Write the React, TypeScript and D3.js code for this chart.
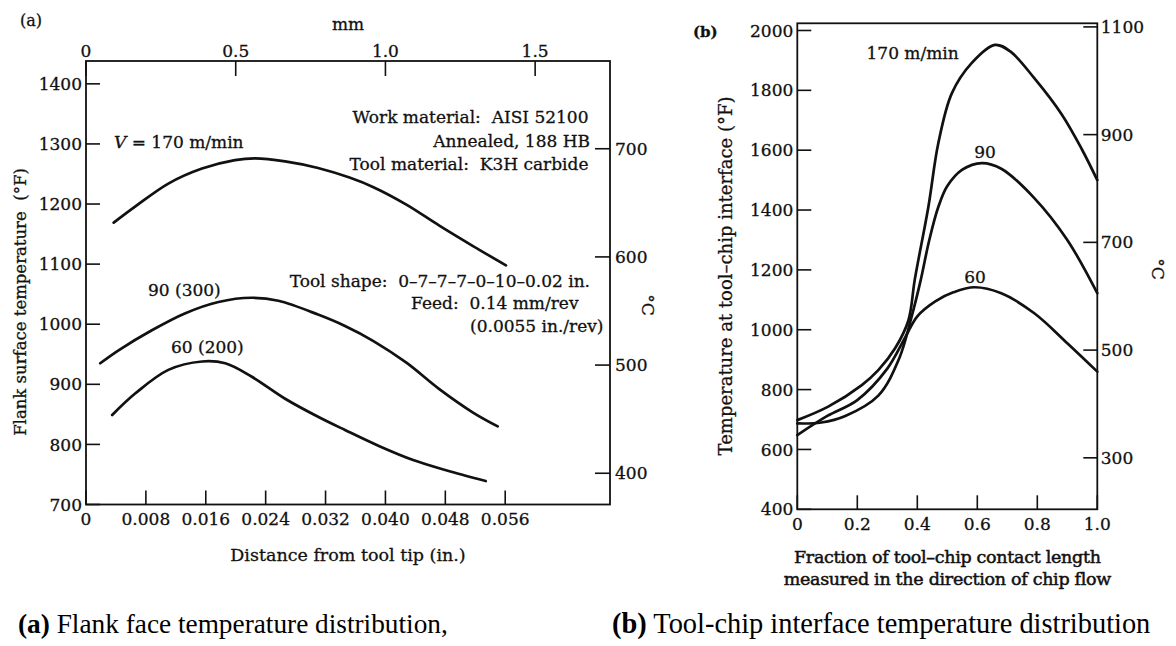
import * as d3 from "d3";

// ---------- panel (a): flank surface temperature ----------
const flankX170 = [0.0037, 0.0066, 0.011, 0.0155, 0.0199, 0.0226, 0.0266, 0.031, 0.0352, 0.0384, 0.0428, 0.0472, 0.0517, 0.0561];
const flankT170 = [1169, 1196, 1234, 1259, 1273, 1276, 1271, 1260, 1244, 1228, 1199, 1164, 1130, 1098];
const flankX90 = [0.0019, 0.0044, 0.0088, 0.0132, 0.0177, 0.0221, 0.0257, 0.031, 0.0346, 0.0384, 0.0428, 0.0472, 0.0517, 0.055];
const flankT90 = [935, 957, 990, 1018, 1037, 1044, 1039, 1016, 997, 972, 936, 892, 853, 830];
const flankX60 = [0.0035, 0.0066, 0.011, 0.0155, 0.0186, 0.0221, 0.0266, 0.031, 0.0346, 0.0392, 0.0437, 0.0481, 0.0534];
const flankT60 = [849, 885, 924, 938, 935, 913, 876, 846, 824, 797, 774, 757, 739];

const aTicksF = [700, 800, 900, 1000, 1100, 1200, 1300, 1400];
const aTicksC = [400, 500, 600, 700];
const aTicksIn = [0, 0.008, 0.016, 0.024, 0.032, 0.04, 0.048, 0.056];
const aTicksMm = [0, 0.5, 1.0, 1.5];

// ---------- panel (b): tool-chip interface temperature ----------
const chipX170 = [0, 0.103, 0.215, 0.27, 0.326, 0.37, 0.392, 0.437, 0.47, 0.515, 0.581, 0.659, 0.71, 0.792, 0.881, 0.948, 1.0];
const chipT170 = [698, 743, 815, 865, 938, 1030, 1170, 1411, 1623, 1790, 1891, 1952, 1930, 1838, 1720, 1604, 1500];
const chipX90 = [0, 0.08, 0.16, 0.27, 0.34, 0.38, 0.41, 0.44, 0.47, 0.5, 0.55, 0.615, 0.68, 0.79, 0.9, 1.0];
const chipT90 = [687, 690, 712, 780, 905, 1040, 1160, 1300, 1410, 1480, 1535, 1557, 1538, 1440, 1300, 1122];
const chipX60 = [0, 0.1, 0.2, 0.3, 0.36, 0.4, 0.46, 0.52, 0.59, 0.68, 0.79, 0.9, 1.0];
const chipT60 = [648, 712, 765, 870, 975, 1045, 1095, 1125, 1142, 1122, 1055, 955, 860];

const bTicksF = [400, 600, 800, 1000, 1200, 1400, 1600, 1800, 2000];
const bTicksC = [300, 500, 700, 900, 1100];
const bTicksFrac = [0, 0.2, 0.4, 0.6, 0.8, 1.0];

const PANEL_A = { left: 86, top: 61, width: 524, height: 443.5 };
const PANEL_B = { left: 797.3, top: 23.3, width: 300, height: 486 };

const INK = "#111";
const FONT = "'DejaVu Serif', serif";
const TICK = 14;

const fToC = (f: number) => ((f - 32) * 5) / 9;
const zip = (xs: number[], ys: number[]) => xs.map((x, i) => [x, ys[i]] as [number, number]);

const fmt = (digits: number) => (v: number) => (v === 0 ? "0" : v.toFixed(digits));

export default function App() {
  // scales (a)
  const ax = d3.scaleLinear().domain([0, 0.07]).range([0, PANEL_A.width]);
  const axMm = d3.scaleLinear().domain([0, 1.75]).range([0, PANEL_A.width]);
  const ay = d3.scaleLinear().domain([700, 1438]).range([PANEL_A.height, 0]);
  const ayC = d3.scaleLinear().domain([fToC(700), fToC(1438)]).range([PANEL_A.height, 0]);
  const aLine = d3
    .line<[number, number]>()
    .x((d) => ax(d[0]))
    .y((d) => ay(d[1]))
    .curve(d3.curveCatmullRom.alpha(0.5));

  // scales (b)
  const bx = d3.scaleLinear().domain([0, 1]).range([0, PANEL_B.width]);
  const by = d3.scaleLinear().domain([400, 2024]).range([PANEL_B.height, 0]);
  const byC = d3.scaleLinear().domain([fToC(400), fToC(2024)]).range([PANEL_B.height, 0]);
  const bLine = d3
    .line<[number, number]>()
    .x((d) => bx(d[0]))
    .y((d) => by(d[1]))
    .curve(d3.curveCatmullRom.alpha(0.5));

  const aCurves = [zip(flankX170, flankT170), zip(flankX90, flankT90), zip(flankX60, flankT60)];
  const bCurves = [zip(chipX170, chipT170), zip(chipX90, chipT90), zip(chipX60, chipT60)];

  // scanned text looks a bit heavy, so add a hairline stroke
  const tickText = { fontFamily: FONT, fontSize: 17, fill: INK, stroke: INK, strokeWidth: 0.3 };

  return (
    <svg
      width={1176}
      height={646}
      style={{ position: "absolute", left: 0, top: 0, background: "#fff" }}
    >
      <rect width={1176} height={646} fill="#fff" />

      {/* ================= panel (a) ================= */}
      <text x={20} y={26} {...tickText} fontSize={16}>(a)</text>
      <g transform={`translate(${PANEL_A.left},${PANEL_A.top})`}>
        <rect width={PANEL_A.width} height={PANEL_A.height} fill="none" stroke={INK} strokeWidth={1.8} />

        {/* left °F axis */}
        {aTicksF.map((t) => (
          <g key={`af${t}`}>
            <line x1={0} x2={TICK} y1={ay(t)} y2={ay(t)} stroke={INK} strokeWidth={1.6} />
            <text x={-4} y={ay(t)} dy="0.36em" textAnchor="end" {...tickText}>{t}</text>
          </g>
        ))}
        {/* right °C axis */}
        {aTicksC.map((t) => (
          <g key={`ac${t}`}>
            <line x1={PANEL_A.width - 15} x2={PANEL_A.width} y1={ayC(t)} y2={ayC(t)} stroke={INK} strokeWidth={1.6} />
            <text x={PANEL_A.width + 5} y={ayC(t)} dy="0.36em" {...tickText}>{t}</text>
          </g>
        ))}
        {/* bottom inch axis */}
        {aTicksIn.map((t) => (
          <g key={`ai${t}`}>
            <line x1={ax(t)} x2={ax(t)} y1={PANEL_A.height} y2={PANEL_A.height - TICK} stroke={INK} strokeWidth={1.6} />
            <text x={ax(t)} y={PANEL_A.height + 20.5} textAnchor="middle" {...tickText}>{fmt(3)(t)}</text>
          </g>
        ))}
        {/* top mm axis */}
        {aTicksMm.map((t) => (
          <g key={`am${t}`}>
            <line x1={axMm(t)} x2={axMm(t)} y1={0} y2={15} stroke={INK} strokeWidth={1.6} />
            <text x={axMm(t)} y={-4.5} textAnchor="middle" {...tickText}>{fmt(1)(t)}</text>
          </g>
        ))}

        {aCurves.map((c, i) => (
          <path key={`ac${i}`} d={aLine(c) ?? ""} fill="none" stroke={INK} strokeWidth={2.7} strokeLinecap="round" />
        ))}

        <text x={PANEL_A.width / 2} y={-31} textAnchor="middle" {...tickText}>mm</text>
        <text x={PANEL_A.width / 2} y={PANEL_A.height + 56.5} textAnchor="middle" {...tickText} fontSize={17.5}>
          Distance from tool tip (in.)
        </text>
      </g>

      {/* annotations (a) */}
      <g {...tickText}>
        <text x={114} y={148}>
          <tspan fontStyle="italic">V</tspan> = 170 m/min
        </text>
        <text x={148} y={295.5}>90 (300)</text>
        <text x={171} y={352.5}>60 (200)</text>
        <g textAnchor="end">
          <text x={588.5} y={122.5} xmlSpace="preserve">Work material:  AISI 52100</text>
          <text x={590} y={146.5}>Annealed, 188 HB</text>
          <text x={588.5} y={169.5} xmlSpace="preserve">Tool material:  K3H carbide</text>
          <text x={590} y={286.5} xmlSpace="preserve">Tool shape:  0–7–7–7–0–10–0.02 in.</text>
          <text x={578.5} y={308.5} xmlSpace="preserve">Feed:  0.14 mm/rev</text>
          <text x={603.5} y={331.5}>(0.0055 in./rev)</text>
        </g>
      </g>
      <text transform="translate(20,302) rotate(-90)" textAnchor="middle" dy="0.35em" {...tickText} fontSize={16.5} xmlSpace="preserve">
        Flank surface temperature  (°F)
      </text>
      <text transform="translate(647.5,305) rotate(90)" textAnchor="middle" dy="0.35em" {...tickText}>°C</text>

      {/* ================= panel (b) ================= */}
      <text x={693} y={37} {...tickText} fontSize={15} fontWeight="bold">(b)</text>
      <g transform={`translate(${PANEL_B.left},${PANEL_B.top})`}>
        <rect width={PANEL_B.width} height={PANEL_B.height} fill="none" stroke={INK} strokeWidth={1.8} />

        {bTicksF.map((t) => (
          <g key={`bf${t}`}>
            <line x1={0} x2={TICK} y1={by(t)} y2={by(t)} stroke={INK} strokeWidth={1.6} />
            <text x={-4} y={by(t)} dy="0.36em" textAnchor="end" {...tickText}>{t}</text>
          </g>
        ))}
        {bTicksC.map((t) => (
          <g key={`bc${t}`}>
            <line x1={PANEL_B.width - TICK} x2={PANEL_B.width} y1={byC(t)} y2={byC(t)} stroke={INK} strokeWidth={1.6} />
            <text x={PANEL_B.width + 3.5} y={byC(t)} dy="0.36em" {...tickText}>{t}</text>
          </g>
        ))}
        {bTicksFrac.map((t) => (
          <g key={`bx${t}`}>
            <line x1={bx(t)} x2={bx(t)} y1={PANEL_B.height} y2={PANEL_B.height - TICK} stroke={INK} strokeWidth={1.6} />
            <text x={bx(t)} y={PANEL_B.height + 21} textAnchor="middle" {...tickText}>{fmt(1)(t)}</text>
          </g>
        ))}

        {bCurves.map((c, i) => (
          <path key={`bc${i}`} d={bLine(c) ?? ""} fill="none" stroke={INK} strokeWidth={2.7} strokeLinecap="round" />
        ))}

        <g textAnchor="middle" {...tickText} fontSize={17.5} strokeWidth={0.5} letterSpacing={-0.3}>
          <text x={PANEL_B.width / 2} y={PANEL_B.height + 54}>Fraction of tool–chip contact length</text>
          <text x={PANEL_B.width / 2} y={PANEL_B.height + 76}>measured in the direction of chip flow</text>
        </g>
      </g>

      <g {...tickText}>
        <text x={866.5} y={59}>170 m/min</text>
        <text x={985} y={158} textAnchor="middle">90</text>
        <text x={975} y={282.5} textAnchor="middle">60</text>
      </g>
      <text transform="translate(725.5,276) rotate(-90)" textAnchor="middle" dy="0.35em" {...tickText} fontSize={18}>
        Temperature at tool–chip interface (°F)
      </text>
      <text transform="translate(1158,269) rotate(90)" textAnchor="middle" dy="0.35em" {...tickText}>°C</text>

      {/* ================= captions ================= */}
      <g fontFamily="'Liberation Serif', 'Times New Roman', serif" fill="#000">
        <text x={18} y={633} fontSize={27.3}>
          <tspan fontWeight="bold">(a)</tspan> Flank face temperature distribution,
        </text>
        <text x={612} y={633} fontSize={28.4}>
          <tspan fontWeight="bold">(b)</tspan> Tool-chip interface temperature distribution
        </text>
      </g>
    </svg>
  );
}
